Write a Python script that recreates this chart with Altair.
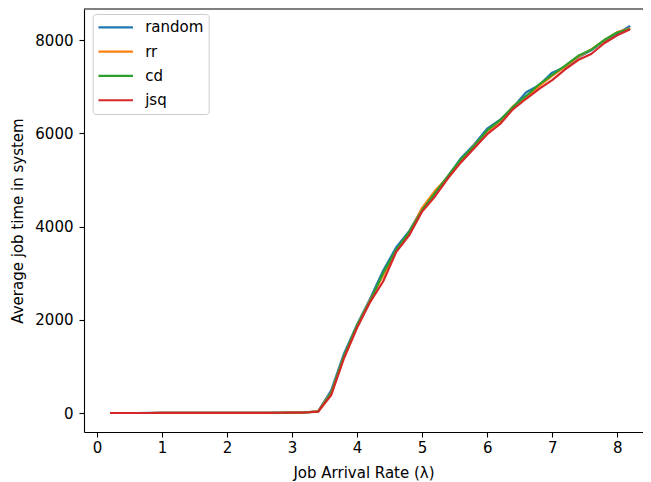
import altair as alt
import pandas as pd

rates = [0.2, 0.4, 0.6, 0.8, 1.0, 1.2, 1.4, 1.6, 1.8, 2.0, 2.2, 2.4, 2.6, 2.8, 3.0, 3.2, 3.4,
         3.6, 3.8, 4.0, 4.2, 4.4, 4.6, 4.8, 5.0, 5.2, 5.4, 5.6, 5.8, 6.0, 6.2, 6.4, 6.6,
         6.8, 7.0, 7.2, 7.4, 7.6, 7.8, 8.0, 8.2]

series_names = ["random", "rr", "cd", "jsq"]
series_colors = ["#1f77b4", "#ff7f0e", "#2ca02c", "#d62728"]

random_vals = [0.3, 0.6, 0.8, 1.1, 1.3, 1.6, 1.9, 2.2, 2.6, 3.0, 3.5, 4.2, 5.1, 6.5, 9.0, 14, 38,
               480, 1280, 1900, 2450, 3050, 3550, 3900, 4380, 4720, 5080, 5470, 5760, 6100,
               6290, 6560, 6880, 7030, 7300, 7420, 7630, 7780, 7980, 8140, 8300]
rr_vals = [0.3, 0.5, 0.8, 1.0, 1.3, 1.5, 1.8, 2.1, 2.5, 2.9, 3.4, 4.0, 4.9, 6.2, 8.5, 13, 34,
           430, 1220, 1870, 2420, 2950, 3480, 3860, 4400, 4770, 5060, 5420, 5740, 6040,
           6260, 6580, 6780, 7010, 7230, 7430, 7640, 7800, 7990, 8170, 8250]
cd_vals = [0.3, 0.5, 0.7, 1.0, 1.2, 1.5, 1.8, 2.1, 2.4, 2.8, 3.3, 3.9, 4.8, 6.0, 8.2, 12, 32,
           420, 1230, 1880, 2400, 3000, 3500, 3880, 4350, 4720, 5090, 5450, 5730, 6060,
           6280, 6570, 6800, 7050, 7250, 7450, 7660, 7790, 8000, 8160, 8240]
jsq_vals = [0.3, 0.5, 0.7, 1.0, 1.2, 1.4, 1.7, 2.0, 2.3, 2.7, 3.1, 3.7, 4.5, 5.7, 7.8, 11, 28,
            380, 1180, 1830, 2380, 2820, 3450, 3810, 4320, 4650, 5040, 5380, 5680, 5980,
            6200, 6520, 6740, 6950, 7140, 7370, 7570, 7700, 7930, 8100, 8230]

x_ticks = [0, 1, 2, 3, 4, 5, 6, 7, 8]
y_ticks = [0, 2000, 4000, 6000, 8000]

rows = []
for name, vals in zip(series_names, [random_vals, rr_vals, cd_vals, jsq_vals]):
    for r, v in zip(rates, vals):
        rows.append({"series": name, "rate": r, "time": v})
df = pd.DataFrame(rows)

W, H = 559, 423
FONT = "DejaVu Sans"

lines = alt.Chart(df).mark_line(strokeWidth=2.2, strokeJoin="round", clip=True).encode(
    x=alt.X("rate:Q",
            scale=alt.Scale(domain=[-0.2, 8.397], nice=False, zero=False),
            axis=alt.Axis(values=x_ticks, title="Job Arrival Rate (λ)", format="d",
                          labelPadding=3, titleY=40, titleBaseline="middle")),
    y=alt.Y("time:Q",
            scale=alt.Scale(domain=[-407, 8665], nice=False, zero=False),
            axis=alt.Axis(values=y_ticks, title="Average job time in system", format="d",
                          labelPadding=6, titleX=-67, titleY=H / 2,
                          titleBaseline="middle")),
    color=alt.Color("series:N",
                    scale=alt.Scale(domain=series_names, range=series_colors),
                    sort=series_names,
                    legend=alt.Legend(title=None, orient="none", legendX=8.7, legendY=5,
                                      padding=4.5, strokeColor="#cccccc", fillColor="white",
                                      cornerRadius=3, symbolType="stroke",
                                      symbolStrokeWidth=2.2, symbolSize=1190,
                                      clipHeight=17.7, rowPadding=6.3,
                                      labelFontSize=15, labelFont=FONT, labelColor="black",
                                      labelOffset=11)),
)

top_border = alt.Chart(pd.DataFrame({"a": [0]})).mark_rule(color="black", strokeWidth=1.1).encode(
    x=alt.value(0), x2=alt.value(W), y=alt.value(0)
)

chart = alt.layer(lines, top_border).properties(
    width=W, height=H,
    padding={"left": 76, "top": 1, "right": 0, "bottom": 50},
    autosize=alt.AutoSizeParams(type="none"),
).configure_view(stroke=None).configure_axis(
    grid=False, domainColor="black", domainWidth=1.1, tickColor="black", tickWidth=1.1,
    tickSize=5, labelColor="black", titleColor="black", labelFont=FONT, titleFont=FONT,
    labelFontSize=15, titleFontSize=15, titleFontWeight="normal",
)

chart.save("out.html", embed_options={"renderer": "svg", "actions": False})
